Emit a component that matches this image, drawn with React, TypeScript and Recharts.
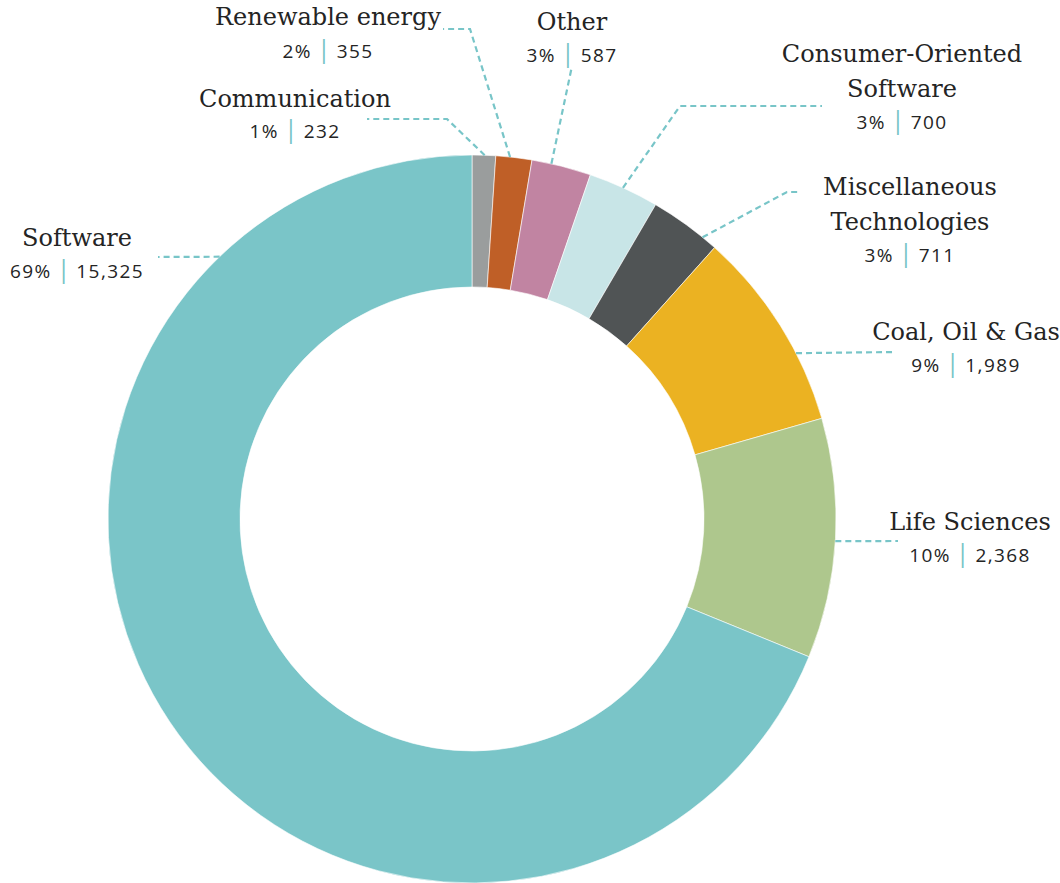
import { PieChart, Pie, Cell } from 'recharts'

const categories = [
  ['Communication'],
  ['Renewable energy'],
  ['Other'],
  ['Consumer-Oriented', 'Software'],
  ['Miscellaneous', 'Technologies'],
  ['Coal, Oil & Gas'],
  ['Life Sciences'],
  ['Software'],
]
const counts = [232, 355, 587, 700, 711, 1989, 2368, 15325]
const shares = ['1%', '2%', '3%', '3%', '3%', '9%', '10%', '69%']

const COLORS = [
  '#9a9d9d',
  '#bf5f27',
  '#c184a2',
  '#c8e5e7',
  '#505455',
  '#ebb222',
  '#aec78d',
  '#7ac5c8',
]
const LEADER = '#78c5c8'
const INK = '#242424'

// leader anchor angle on the outer ring, elbow/end and text spots relative to the centre
const LABEL_LAYOUT = [
  { deg: 88, elbow: [-25, -400], end: [-105, -400], tx: -177, ty: [-412], vy: -381 },
  { deg: 84, elbow: [-2, -490], end: [-29, -490], tx: -144, ty: [-494], vy: -461 },
  { deg: 77.4, elbow: null, end: [100, -453], tx: 100, ty: [-489], vy: -457 },
  { deg: 65.5, elbow: [208, -413], end: [350, -413], tx: 430, ty: [-457, -422], vy: -390 },
  { deg: 50.7, elbow: [315, -327], end: [326, -327], tx: 438, ty: [-324, -289], vy: -257 },
  { deg: 27.1, elbow: null, end: [423, -167], tx: 494, ty: [-179], vy: -147 },
  { deg: -3.5, elbow: null, end: [426, 22], tx: 498, ty: [11], vy: 43 },
  { deg: 133.9, elbow: null, end: [-314, -262], tx: -395, ty: [-273], vy: -241 },
]

const data = categories.map((lines, i) => ({
  name: lines.join(' '),
  value: counts[i],
}))

function renderLabel(props: any) {
  const { cx, cy, outerRadius, index } = props
  const l = LABEL_LAYOUT[index]
  const rad = (l.deg * Math.PI) / 180
  const sx = cx + outerRadius * Math.cos(rad)
  const sy = cy - outerRadius * Math.sin(rad)
  const pts = [[sx, sy]]
  if (l.elbow) pts.push([cx + l.elbow[0], cy + l.elbow[1]])
  pts.push([cx + l.end[0], cy + l.end[1]])
  const tx = cx + l.tx

  return (
    <g key={`lbl-${index}`}>
      <polyline
        points={pts.map((p) => p.join(',')).join(' ')}
        fill="none"
        stroke={LEADER}
        strokeWidth={2.2}
        strokeDasharray="6 4"
      />
      {categories[index].map((line, j) => (
        <text
          key={j}
          x={tx}
          y={cy + l.ty[j]}
          textAnchor="middle"
          fontFamily="'DejaVu Serif', serif"
          fontSize={24}
          fill={INK}
        >
          {line}
        </text>
      ))}
      <text
        x={tx}
        y={cy + l.vy}
        textAnchor="middle"
        fontFamily="'Open Sans', sans-serif"
        fontSize={19}
        letterSpacing={1.4}
        fill={INK}
      >
        <tspan>{shares[index]}</tspan>
        <tspan dx={5} fill={LEADER} fontSize={25} letterSpacing={0}>|</tspan>
        <tspan dx={6}>{counts[index].toLocaleString('en-US')}</tspan>
      </text>
    </g>
  )
}

export default function App() {
  return (
    <div style={{ position: 'absolute', left: 0, top: 0, width: 1060, height: 883, background: '#fff' }}>
      <PieChart width={1060} height={883} margin={{ top: 0, right: 0, bottom: 0, left: 0 }}>
        <Pie
          data={data}
          dataKey="value"
          nameKey="name"
          cx={472}
          cy={519}
          innerRadius={232}
          outerRadius={364}
          startAngle={90}
          endAngle={-270}
          stroke="#ffffff"
          strokeWidth={0.6}
          label={renderLabel}
          labelLine={false}
          isAnimationActive={false}
        >
          {data.map((d, i) => (
            <Cell key={d.name} fill={COLORS[i]} />
          ))}
        </Pie>
      </PieChart>
    </div>
  )
}
